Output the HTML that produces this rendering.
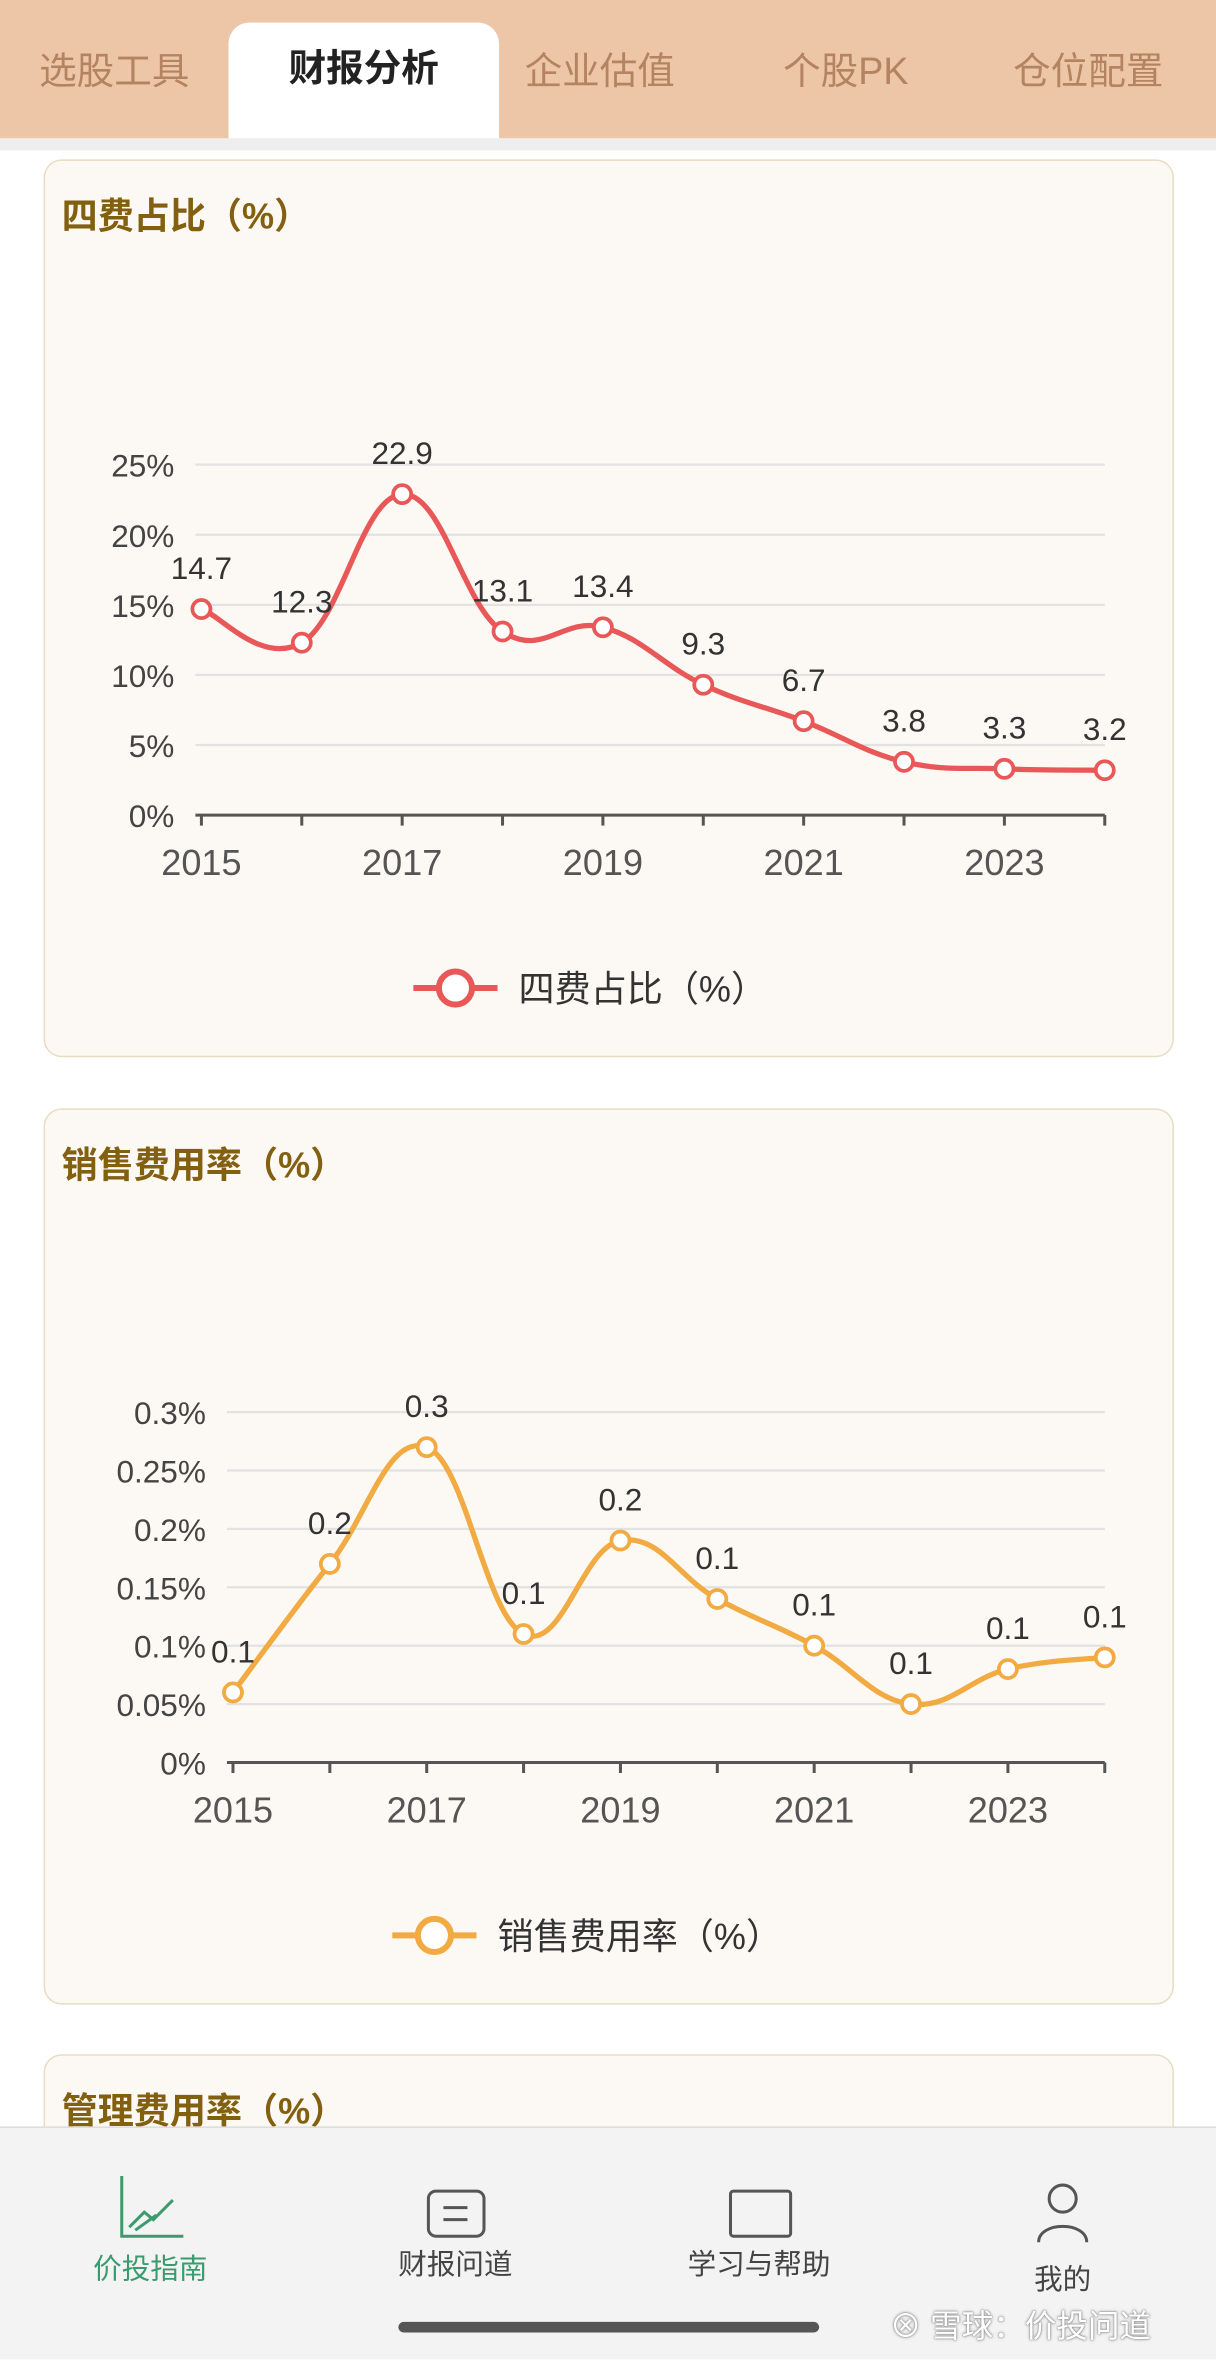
<!DOCTYPE html>
<html><head><meta charset="utf-8">
<style>
html,body{margin:0;padding:0;width:1216px;height:2358px;overflow:hidden;background:#fff;font-family:"Liberation Sans","Noto Sans CJK SC",sans-serif;}
#wrap{position:absolute;left:0;top:0;width:809px;height:1568px;transform:scale(1.50309,1.50383);transform-origin:0 0;background:#fff;}
.tabs{position:absolute;left:0;top:0;width:809px;height:92px;background:#ecc6a6;}
.tab{position:absolute;top:28px;font-size:25px;color:#b48462;}
.tab.active{top:15px;left:152px;width:180px;height:77px;background:#fff;border-radius:14px 14px 0 0;color:#222;font-weight:bold;text-align:center;line-height:62px;}
.band{position:absolute;left:0;top:92px;width:809px;height:8px;background:#eeeeee;}
.card{position:absolute;left:29px;width:750px;background:#fcf9f4;border:1.5px solid #e8dcc2;border-radius:12px;}
.ctitle{position:absolute;left:11px;top:17px;font-size:24px;font-weight:bold;color:#82600f;}
.nav{position:absolute;left:0;top:1414px;width:809px;height:154px;background:#f3f3f3;border-top:1px solid #ddd;}
.nl{position:absolute;font-size:19px;color:#444;text-align:center;width:160px;}
</style></head><body>
<div id="wrap">
<div class="tabs">
 <div class="tab" style="left:26px">选股工具</div>
 <div class="tab active">财报分析</div>
 <div class="tab" style="left:349px">企业估值</div>
 <div class="tab" style="left:521px">个股PK</div>
 <div class="tab" style="left:674px">仓位配置</div>
</div>
<div class="band"></div>

<div class="card" style="top:106px;height:595px">
 <div class="ctitle">四费占比（%）</div>
</div>
<div class="card" style="top:737px;height:594px">
 <div class="ctitle">销售费用率（%）</div>
</div>
<div class="card" style="top:1366px;height:120px">
 <div class="ctitle">管理费用率（%）</div>
</div>

<svg id="svg" width="809" height="1414" style="position:absolute;left:0;top:0"></svg>

<div class="nav">
 <svg width="809" height="154" style="position:absolute;left:0;top:0">
  <g stroke="#3c9b6e" fill="none" stroke-width="2">
   <path d="M81 32 V72 H122"/><path d="M86 66 L96 56 L102 61 L115 48"/><path d="M90 68 L104 58"/>
  </g>
  <g stroke="#555" fill="none" stroke-width="2">
   <rect x="285" y="42" width="37" height="30" rx="5"/><path d="M295 53 H311 M295 61 H311"/>
  </g>
  <g stroke="#555" fill="none" stroke-width="2">
   <rect x="486" y="42" width="40" height="30" rx="2"/>
  </g>
  <g stroke="#555" fill="none" stroke-width="2">
   <circle cx="707" cy="47" r="9"/><path d="M691 76 C691 62 723 62 723 76"/>
  </g>
  <rect x="265" y="129" width="280" height="7" rx="3.5" fill="#555"/>
 </svg>
 <div class="nl" style="left:20px;top:79px;color:#3c9b6e">价投指南</div>
 <div class="nl" style="left:223px;top:76px">财报问道</div>
 <div class="nl" style="left:425px;top:76px">学习与帮助</div>
 <div class="nl" style="left:627px;top:86px">我的</div>
 <div style="position:absolute;left:592px;top:116px;font-size:21px;color:#fff;text-shadow:0 0 2px #888,0 0 1px #666">⊗ 雪球：价投问道</div>
</div>
</div>
<script>
const years=[2015,2016,2017,2018,2019,2020,2021,2022,2023,2024];
const tickYears=[2015,2017,2019,2021,2023];
const fourFee=[14.7,12.3,22.9,13.1,13.4,9.3,6.7,3.8,3.3,3.2];
const fourFeeLabels=["14.7","12.3","22.9","13.1","13.4","9.3","6.7","3.8","3.3","3.2"];
const fourTicks=[0,5,10,15,20,25];
const sales=[0.06,0.17,0.27,0.11,0.19,0.14,0.10,0.05,0.08,0.09];
const salesLabels=["0.1","0.2","0.3","0.1","0.2","0.1","0.1","0.1","0.1","0.1"];
const salesTicks=[0,0.05,0.1,0.15,0.2,0.25,0.3];
const salesTickLabels=["0%","0.05%","0.1%","0.15%","0.2%","0.25%","0.3%"];
const NS="http://www.w3.org/2000/svg";
const svg=document.getElementById('svg');
function mk(tag,attrs,parent){const e=document.createElementNS(NS,tag);for(const k in attrs)e.setAttribute(k,attrs[k]);(parent||svg).appendChild(e);return e;}
function chart(o){
 const g=mk('g',{});
 
 
 const x=y=>o.x0+(y-years[0])*(o.x1-o.x0)/(years[years.length-1]-years[0]);
 const yv=v=>o.y0-(v-o.ymin)*(o.y0-o.y1)/(o.ymax-o.ymin);
 o.ticks.forEach((t,i)=>{
  if(i>0){const l=mk('line',{x1:o.gx,x2:o.x1,y1:yv(t),y2:yv(t),stroke:'#e2e2e2','stroke-width':1.5},g);
   }
  const tx=mk('text',{x:o.gx-14,y:yv(t)+8,'text-anchor':'end','font-size':21,fill:'#444'},g);
  tx.textContent=o.tickLabels[i];
  
 });
 const ax=mk('line',{x1:o.gx,x2:o.x1,y1:o.y0,y2:o.y0,stroke:'#555','stroke-width':2},g);
 
 years.forEach(yr=>{
  const tk=mk('line',{x1:x(yr),x2:x(yr),y1:o.y0,y2:o.y0+7,stroke:'#555','stroke-width':2},g);
  
 });
 tickYears.forEach(yr=>{
  const t=mk('text',{x:x(yr),y:o.y0+40,'text-anchor':'middle','font-size':24,fill:'#555'},g);
  t.textContent=yr;
  
 });
 const P=o.data.map((v,i)=>[x(years[i]),yv(v)]);
 let d='M'+P[0][0]+' '+P[0][1];
 const k=0.2;
 for(let i=0;i<P.length-1;i++){
  const p0=P[Math.max(0,i-1)],p1=P[i],p2=P[i+1],p3=P[Math.min(P.length-1,i+2)];
  const c1=[p1[0]+(p2[0]-p0[0])*k,p1[1]+(p2[1]-p0[1])*k];
  const c2=[p2[0]-(p3[0]-p1[0])*k,p2[1]-(p3[1]-p1[1])*k];
  d+=` C${c1[0]} ${c1[1]} ${c2[0]} ${c2[1]} ${p2[0]} ${p2[1]}`;
 }
 const path=mk('path',{d:d,fill:'none',stroke:o.color,'stroke-width':3.5},g);
 
 P.forEach((p,i)=>{
  const c=mk('circle',{cx:p[0],cy:p[1],r:6,fill:'#fff',stroke:o.color,'stroke-width':2.5},g);
  
  const t=mk('text',{x:p[0],y:p[1]-20,'text-anchor':'middle','font-size':21,fill:'#333'},g);
  t.textContent=o.labels[i];
  
 });
 const lg=mk('g',{},g);
 
 mk('line',{x1:o.lx,x2:o.lx+56,y1:o.ly,y2:o.ly,stroke:o.color,'stroke-width':4},lg);
 mk('circle',{cx:o.lx+28,cy:o.ly,r:11,fill:'#fff',stroke:o.color,'stroke-width':4},lg);
 const lt=mk('text',{x:o.lx+70,y:o.ly+9,'font-size':24,fill:'#333'},lg);
 lt.textContent=o.legend;
}
chart({name:'four-fee-chart',data:fourFee,labels:fourFeeLabels,ticks:fourTicks,tickLabels:fourTicks.map(t=>t+'%'),
 ymin:0,ymax:25,x0:134,x1:735,gx:130,y0:542,y1:309,color:'#e85858',lx:275,ly:657,legend:'四费占比（%）'});
chart({name:'sales-expense-chart',data:sales,labels:salesLabels,ticks:salesTicks,tickLabels:salesTickLabels,
 ymin:0,ymax:0.3,x0:155,x1:735,gx:151,y0:1172,y1:939,color:'#f2aa42',lx:261,ly:1287,legend:'销售费用率（%）'});
</script>
</body></html>
